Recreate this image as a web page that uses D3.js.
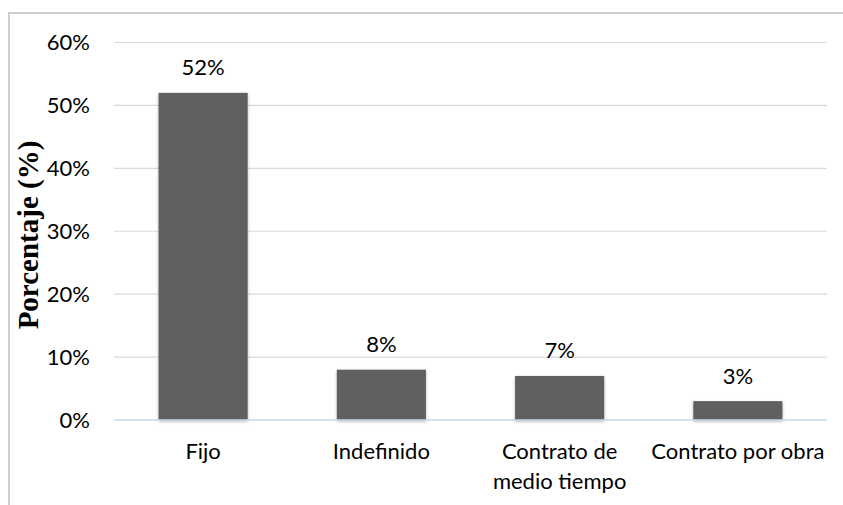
<!DOCTYPE html>
<html>
<head>
<meta charset="utf-8">
<script src="https://cdn.jsdelivr.net/npm/d3@7"></script>
<style>
  html, body { margin: 0; padding: 0; background: #fff; }
  svg { display: block; }
</style>
</head>
<body>
<script>
const categories = [["Fijo"], ["Indefinido"], ["Contrato de", "medio tiempo"], ["Contrato por obra"]];
const values = [0.52, 0.08, 0.07, 0.03];
const tickValues = [0, 0.1, 0.2, 0.3, 0.4, 0.5, 0.6];
const yTitle = "Porcentaje (%)";

const W = 843, H = 505;
const font = "Lato, 'Noto Sans', sans-serif";
const fs = 22;
const svg = d3.select("body").append("svg").attr("width", W).attr("height", H);

const defs = svg.append("defs");
const f = defs.append("filter").attr("id", "sh").attr("x", "-20%").attr("y", "-20%").attr("width", "140%").attr("height", "140%");
f.append("feDropShadow").attr("dx", 0).attr("dy", 1.5).attr("stdDeviation", 1.5).attr("flood-color", "#000").attr("flood-opacity", 0.3);

// outer border (only top and left visible)
svg.append("rect").attr("x", 9).attr("y", 13).attr("width", 900).attr("height", 600)
  .attr("fill", "none").attr("stroke", "#bfbfbf").attr("stroke-width", 1.5);

const x = d3.scaleBand().domain(d3.range(categories.length)).range([114, 827])
  .paddingInner(0.5).paddingOuter(0.25);
const y = d3.scaleLinear().domain([0, 0.6]).range([420, 42.5]);

// gridlines
svg.append("g").selectAll("line").data(tickValues.filter(d => d > 0)).join("line")
  .attr("x1", 114).attr("x2", 827)
  .attr("y1", d => y(d)).attr("y2", d => y(d))
  .attr("stroke", "#d9d9d9").attr("stroke-width", 1.2);

// y tick labels
svg.append("g").selectAll("text").data(tickValues).join("text")
  .attr("x", 90).attr("y", d => y(d)).attr("dy", "0.35em")
  .attr("text-anchor", "end").attr("font-family", font).attr("font-size", fs).attr("fill", "#000")
  .text(d => d3.format(".0%")(d));

// bars
svg.append("g").selectAll("rect").data(values).join("rect")
  .attr("x", (d, i) => x(i)).attr("width", x.bandwidth())
  .attr("y", d => y(d)).attr("height", d => y(0) - y(d))
  .attr("fill", "#606060").attr("filter", "url(#sh)");

// zero line
svg.append("line").attr("x1", 114).attr("x2", 827).attr("y1", y(0)).attr("y2", y(0))
  .attr("stroke", "#c5d9ef").attr("stroke-width", 1.5);

// data labels
svg.append("g").selectAll("text").data(values).join("text")
  .attr("x", (d, i) => x(i) + x.bandwidth() / 2).attr("y", d => y(d) - 17.5)
  .attr("text-anchor", "middle").attr("font-family", font).attr("font-size", fs).attr("fill", "#000")
  .text(d => d3.format(".0%")(d));

// category labels
const cl = svg.append("g").selectAll("text").data(categories).join("text")
  .attr("x", (d, i) => x(i) + x.bandwidth() / 2).attr("y", 459)
  .attr("text-anchor", "middle").attr("font-family", font).attr("font-size", fs).attr("fill", "#000");
cl.selectAll("tspan").data(d => d).join("tspan")
  .attr("x", function() { return d3.select(this.parentNode).attr("x"); })
  .attr("dy", (d, i) => i === 0 ? 0 : 30)
  .text(d => d);

// y title
svg.append("text")
  .attr("transform", "translate(38,235) rotate(-90)")
  .attr("text-anchor", "middle").attr("font-family", "'Liberation Serif', 'Times New Roman', serif")
  .attr("font-weight", "bold").attr("font-size", 29).attr("fill", "#000")
  .text(yTitle);
</script>
</body>
</html>
